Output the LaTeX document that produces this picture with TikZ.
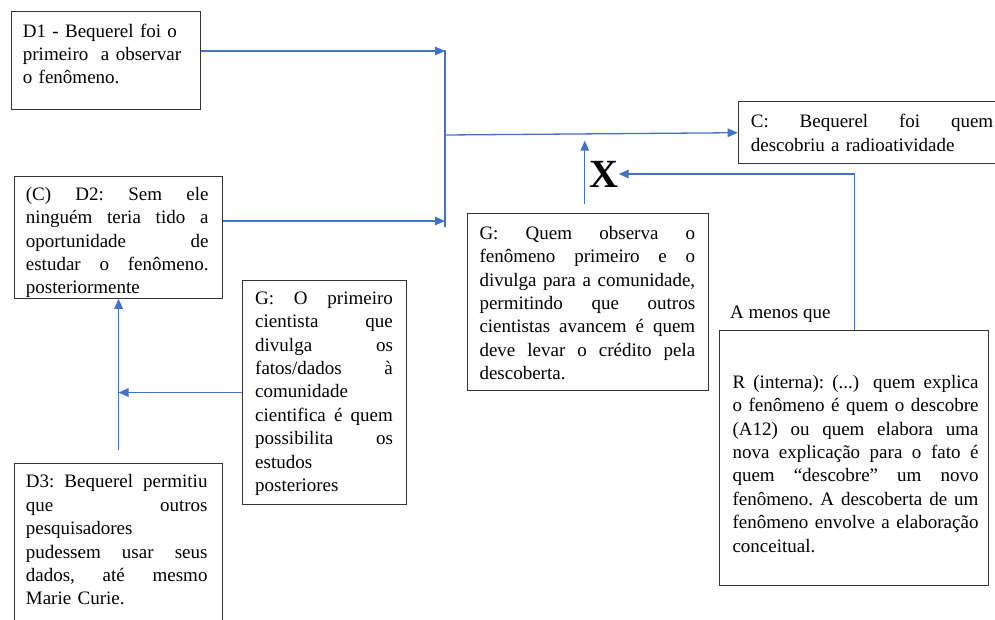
\documentclass[tikz,border=0pt]{standalone}
\usepackage{fontspec}
\setmainfont{Liberation Serif}
\usepackage{tikz}
\usetikzlibrary{arrows.meta}
\definecolor{azul}{RGB}{68,114,196}
\newcommand{\linha}[1]{\leavevmode\hbox to\linewidth{\spaceskip=.25em plus 1fil\xspaceskip=\spaceskip #1}}

\begin{document}
\begin{tikzpicture}[x=1pt, y=-1pt, font=\fontsize{19}{23.35}\selectfont\frenchspacing,
        caixa/.style={draw=black!80, line width=1.1pt, anchor=north west, inner sep=0pt},
        texto/.style={anchor=north west, inner sep=0pt, align=left},
        fio/.style={draw=azul, line width=1.3pt},
        seta/.style={fio, -{Triangle[length=10pt, width=8.5pt]}}]
        \useasboundingbox (0,0) rectangle (995,619);
        \fill[white] (0,0) rectangle (995,619);
        \clip (0,0) rectangle (995,619);

        % caixas
        \node[caixa, minimum width=189.3pt, minimum height=98.3pt] (d1) at (10.7,11) {};
        \node[caixa, minimum width=207.4pt, minimum height=122pt] (d2) at (14.3,175.7) {};
        \node[caixa, minimum width=163.7pt, minimum height=224pt] (g2) at (242,280) {};
        \node[caixa, minimum width=207.4pt, minimum height=170pt] (d3) at (14.3,462.7) {};
        \node[caixa, minimum width=241pt, minimum height=176.8pt] (g1) at (466.7,212.7) {};
        \node[caixa, minimum width=270pt, minimum height=62.3pt] (c) at (737.7,101) {};
        \node[caixa, minimum width=269pt, minimum height=255.5pt] (r) at (719.3,329.5) {};

        % textos
        \node[texto, text width=170pt] (d1t) at (22.7,20.5)
            {\strut D1 - Bequerel foi o\\ primeiro~ a observar\\ o fenômeno.};
        \node[texto, text width=182.6pt] (d2t) at (25.7,184)
            {\strut\linha{(C) D2: Sem ele}\\ \linha{ninguém teria tido a}\\
             \linha{oportunidade de}\\ \linha{estudar o fenômeno.}\\ posteriormente};
        \node[texto, text width=137.7pt] (g2t) at (255,288)
            {\strut\linha{G: O primeiro}\\ \linha{cientista que}\\ \linha{divulga os}\\
             \linha{fatos/dados à}\\ comunidade\\ \linha{cientifica é quem}\\
             \linha{possibilita os}\\ estudos\\ posteriores};
        \node[texto, text width=181.6pt] (d3t) at (25.7,471.4)
            {\strut\linha{D3: Bequerel permitiu}\\ \linha{que outros}\\ pesquisadores\\
             \linha{pudessem usar seus}\\ \linha{dados, até mesmo}\\ Marie Curie.};
        \node[texto, text width=215.7pt] (g1t) at (479.3,223)
            {\strut\linha{G: Quem observa o}\\ \linha{fenômeno primeiro e o}\\
             \linha{divulga para a comunidade,}\\ \linha{permitindo que outros}\\
             \linha{cientistas avancem é quem}\\ \linha{deve levar o crédito pela}\\ descoberta.};
        \node[texto, text width=242.3pt] (ct) at (750.7,111.4)
            {\strut\linha{C: Bequerel foi quem}\\ descobriu a radioatividade};
        \node[texto, text width=246pt] (rt) at (732.3,372)
            {\strut\linha{R (interna): (...)\kern.3em{} quem explica}\\ \linha{o fenômeno é quem o descobre}\\
             \linha{(A12) ou quem elabora uma}\\ \linha{nova explicação para o fato é}\\
             \linha{quem “descobre” um novo}\\ \linha{fenômeno. A descoberta de um}\\
             \linha{fenômeno envolve a elaboração}\\ conceitual.};
        \node[anchor=base west, inner sep=0pt] (amenos) at (730,318) {A menos que};
        \node[font=\fontsize{40}{40}\selectfont\bfseries, inner sep=0pt] (xis) at (604,174) {X};

        % ligacoes
        \coordinate (topo) at (445,50);
        \coordinate (fundo) at (445,227);
        \coordinate (j1) at (445,51);
        \coordinate (j2) at (445,221);
        \coordinate (meio) at (445,135);
        \draw[fio] (topo) -- (fundo);
        \draw[seta] (d1.east |- j1) -- (j1);
        \draw[seta] (d2.east |- j2) -- (j2);
        \draw[seta] (meio) -- (c.west);
        \draw[seta] ([xshift=-3pt, yshift=9pt]g1.north) -- ([xshift=-3pt, yshift=72pt]g1.north);
        \draw[seta] (r.north) |- (xis.east);
        \draw[seta] ([yshift=13pt]d3.north) -- (d2.south);
        \draw[seta] (g2.west) -- (g2.west -| d2.south);
\end{tikzpicture}
\end{document}
